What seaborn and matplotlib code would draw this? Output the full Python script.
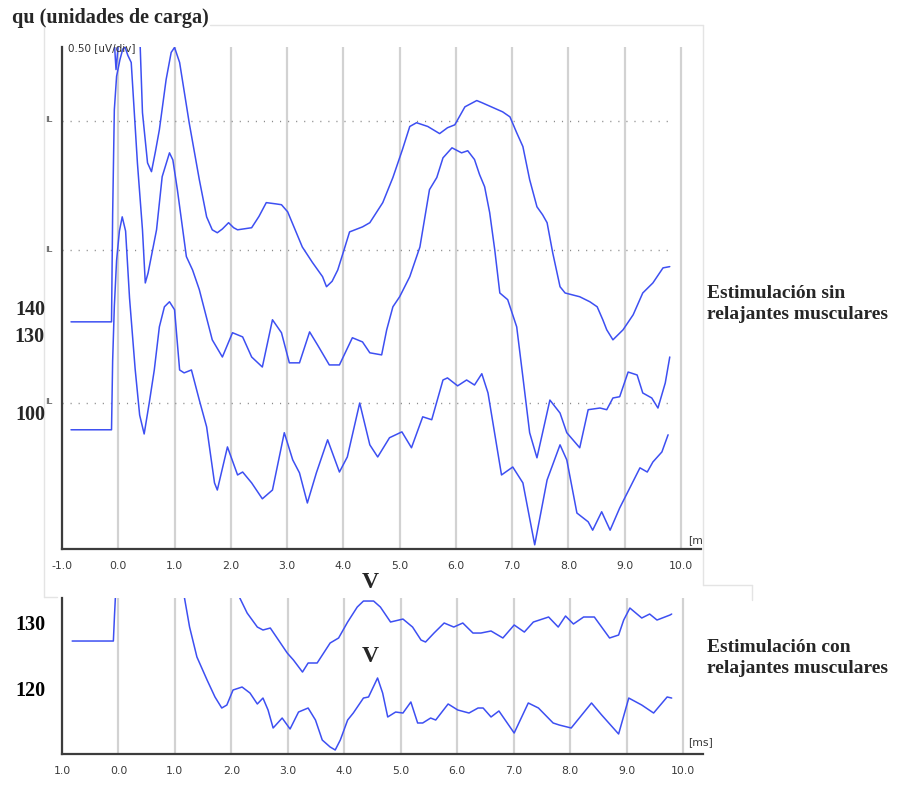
import matplotlib
matplotlib.use("Agg")
import matplotlib.pyplot as plt
from matplotlib.lines import Line2D
import pandas as pd
import seaborn as sns

# ---------------------------------------------------------------------------
# Data: latency in ms, amplitude in divisions (0.50 uV/div) for the upper panel
# and in charge units (qu) for the lower panel.
# ---------------------------------------------------------------------------

# Upper panel - stimulation without muscle relaxants
trace_a_ms = [-0.10, -0.06, -0.04, -0.01, 0.03, 0.08, 0.12, 0.16, 0.25, 0.36, 0.39, 0.43,
              0.52, 0.59, 0.66, 0.73, 0.85, 0.94, 1.00, 1.09, 1.26, 1.44, 1.57, 1.67, 1.76,
              1.85, 1.96, 2.05, 2.12, 2.37, 2.50, 2.63, 2.80, 2.90, 3.01, 3.27, 3.45, 3.63,
              3.70, 3.80, 3.90, 4.00, 4.11, 4.34, 4.47, 4.70, 4.88, 5.05, 5.18, 5.30, 5.50,
              5.71, 5.85, 5.98, 6.16, 6.37, 6.46, 6.83, 6.96, 7.08, 7.19, 7.31, 7.44, 7.54,
              7.62, 7.72, 7.85, 7.94, 8.20, 8.38, 8.51, 8.61, 8.68, 8.79, 8.97, 9.15, 9.32,
              9.50, 9.68, 9.80]
trace_a_div = [12.80, 11.90, 11.46, 11.90, 12.60, 12.10, 12.00, 12.10, 12.50, 12.30, 11.99,
               10.43, 9.23, 9.02, 9.50, 10.02, 11.22, 11.87, 11.99, 11.63, 10.19, 8.83, 7.94,
               7.63, 7.56, 7.65, 7.80, 7.68, 7.63, 7.68, 7.95, 8.28, 8.25, 8.23, 8.06, 7.22,
               6.85, 6.51, 6.27, 6.40, 6.67, 7.10, 7.58, 7.70, 7.80, 8.28, 8.88, 9.55, 10.10,
               10.19, 10.10, 9.93, 10.07, 10.14, 10.57, 10.72, 10.67, 10.45, 10.33, 9.95, 9.62,
               8.83, 8.18, 7.99, 7.80, 7.08, 6.27, 6.12, 6.03, 5.91, 5.79, 5.48, 5.24, 5.00,
               5.24, 5.60, 6.12, 6.36, 6.72, 6.75]

trace_b_ms = [-0.84, -0.12, -0.10, -0.07, -0.03, 0.03, 0.08, 0.12, 0.17, 0.23, 0.34, 0.43,
              0.48, 0.53, 0.68, 0.78, 0.91, 0.97, 1.05, 1.21, 1.32, 1.44, 1.67, 1.85, 2.03,
              2.21, 2.37, 2.56, 2.74, 2.90, 3.04, 3.22, 3.40, 3.54, 3.75, 3.93, 4.16, 4.34,
              4.47, 4.68, 4.77, 4.88, 5.00, 5.18, 5.36, 5.53, 5.66, 5.77, 5.93, 6.10, 6.21,
              6.33, 6.42, 6.51, 6.60, 6.69, 6.78, 6.92, 7.08, 7.19, 7.31, 7.44, 7.54, 7.67,
              7.85, 7.97, 8.20, 8.35, 8.56, 8.68, 8.79, 8.91, 9.06, 9.22, 9.32, 9.48, 9.59,
              9.72, 9.80]
trace_b_div = [5.43, 5.43, 8.00, 10.50, 11.30, 11.70, 11.95, 12.00, 11.80, 11.63, 9.23, 7.63,
               6.36, 6.60, 7.63, 8.90, 9.47, 9.30, 8.59, 6.99, 6.67, 6.20, 5.00, 4.59, 5.17,
               5.07, 4.59, 4.35, 5.48, 5.17, 4.45, 4.45, 5.19, 4.88, 4.40, 4.40, 5.05, 4.95,
               4.69, 4.64, 5.24, 5.79, 6.03, 6.51, 7.22, 8.59, 8.88, 9.35, 9.59, 9.47, 9.52,
               9.31, 8.95, 8.66, 8.04, 7.15, 6.12, 5.96, 5.31, 4.11, 2.78, 2.18, 2.78, 3.56,
               3.25, 2.78, 2.42, 3.33, 3.37, 3.33, 3.61, 3.64, 4.23, 4.16, 3.73, 3.61, 3.37,
               3.97, 4.59]

trace_c_ms = [-0.84, -0.12, -0.10, -0.07, -0.03, 0.02, 0.07, 0.13, 0.20, 0.30, 0.38, 0.46,
              0.55, 0.64, 0.73, 0.82, 0.91, 1.00, 1.09, 1.17, 1.30, 1.44, 1.57, 1.71, 1.76,
              1.94, 2.12, 2.21, 2.37, 2.56, 2.74, 2.95, 3.10, 3.22, 3.36, 3.52, 3.72, 3.93,
              4.07, 4.29, 4.47, 4.61, 4.82, 5.04, 5.21, 5.41, 5.57, 5.77, 5.85, 6.03, 6.19,
              6.33, 6.46, 6.57, 6.81, 7.01, 7.19, 7.40, 7.62, 7.85, 7.97, 8.15, 8.35, 8.43,
              8.59, 8.74, 8.91, 9.27, 9.40, 9.50, 9.66, 9.77]
trace_c_div = [2.85, 2.85, 4.50, 5.80, 6.90, 7.60, 7.94, 7.60, 6.00, 4.30, 3.20, 2.75, 3.49,
               4.28, 5.31, 5.79, 5.91, 5.72, 4.28, 4.21, 4.28, 3.56, 2.92, 1.58, 1.41, 2.44,
               1.77, 1.84, 1.58, 1.20, 1.41, 2.78, 2.13, 1.82, 1.10, 1.82, 2.61, 1.84, 2.20,
               3.49, 2.49, 2.20, 2.66, 2.80, 2.42, 3.16, 3.09, 4.04, 4.09, 3.90, 4.04, 3.92,
               4.19, 3.73, 1.77, 1.96, 1.58, 0.10, 1.65, 2.49, 2.13, 0.86, 0.65, 0.45, 0.89,
               0.45, 0.98, 1.94, 1.84, 2.08, 2.32, 2.73]

# Dotted reference levels (IL) in the upper panel, in divisions
il_levels = [10.24, 7.15, 3.49]

# Lower panel - stimulation with muscle relaxants (qu)
trace_d_ms = [-0.82, -0.09, -0.07, -0.05, 2.10, 2.15, 2.28, 2.46, 2.56, 2.69, 2.81, 2.99,
              3.10, 3.26, 3.36, 3.52, 3.75, 3.90, 4.06, 4.23, 4.34, 4.52, 4.64, 4.82, 5.04,
              5.21, 5.36, 5.44, 5.59, 5.77, 5.94, 6.10, 6.28, 6.42, 6.60, 6.81, 7.01, 7.19,
              7.35, 7.62, 7.79, 7.92, 8.06, 8.24, 8.43, 8.70, 8.86, 8.95, 9.06, 9.27, 9.41,
              9.54, 9.77, 9.80]
trace_d_qu = [127.12, 127.12, 131.00, 134.50, 136.00, 133.64, 131.36, 129.24, 128.79,
              129.09, 127.58, 125.30, 124.24, 122.42, 123.79, 123.79, 126.82, 127.58, 130.00,
              132.27, 133.18, 133.18, 132.27, 130.00, 130.45, 129.24, 127.27, 126.97, 128.33,
              129.85, 129.24, 129.85, 128.33, 128.33, 128.64, 127.58, 129.55, 128.48, 130.00,
              130.76, 129.24, 130.91, 129.70, 130.76, 130.76, 127.58, 128.03, 130.30, 132.12,
              130.61, 131.21, 130.30, 131.06, 131.21]

trace_e_ms = [1.10, 1.17, 1.26, 1.39, 1.57, 1.71, 1.83, 1.92, 2.03, 2.19, 2.33, 2.46, 2.56,
              2.65, 2.74, 2.90, 3.04, 3.19, 3.36, 3.49, 3.61, 3.75, 3.84, 3.93, 4.06, 4.16,
              4.34, 4.43, 4.59, 4.68, 4.77, 4.91, 5.04, 5.18, 5.30, 5.39, 5.53, 5.62, 5.84,
              6.01, 6.21, 6.37, 6.46, 6.60, 6.74, 7.01, 7.26, 7.44, 7.70, 7.81, 8.02, 8.38,
              8.56, 8.86, 9.04, 9.27, 9.48, 9.72, 9.80]
trace_e_qu = [136.00, 133.64, 129.24, 124.70, 121.21, 118.64, 116.97, 117.42, 119.70, 120.15,
              119.24, 117.58, 118.48, 116.67, 113.94, 115.45, 113.79, 116.36, 116.97, 115.15,
              112.12, 111.06, 110.61, 112.12, 115.15, 116.21, 118.48, 118.64, 121.52, 119.24,
              115.61, 116.36, 116.21, 117.88, 114.70, 114.70, 115.45, 115.15, 117.58, 116.67,
              116.21, 116.97, 116.97, 115.61, 116.52, 113.18, 117.73, 116.97, 114.70, 114.39,
              113.94, 117.73, 115.91, 113.03, 118.48, 117.42, 116.21, 118.64, 118.48]

# Axis ticks and labels
x_ticks = list(range(-1, 11))
top_x_labels = ["-1.0", "0.0", "1.0", "2.0", "3.0", "4.0", "5.0", "6.0", "7.0", "8.0", "9.0", "10.0"]
bottom_x_labels = ["1.0", "0.0", "1.0", "2.0", "3.0", "4.0", "5.0", "6.0", "7.0", "8.0", "9.0", "10.0"]
bottom_y_ticks = [110, 120, 130]
bottom_y_labels = ["", "120", "130"]
charge_marks = [("140", 310), ("130", 337), ("100", 415)]

# ---------------------------------------------------------------------------
sns.set_theme(style="white")
plt.rcParams["font.family"] = ["DejaVu Sans"]

W, H = 901, 785
fig = plt.figure(figsize=(W / 100, H / 100), dpi=100)
fig.patch.set_facecolor("white")


def fx(px):
    return px / W


def fy(py):
    return 1 - py / H


BLUE = "#3d4ff2"
AXIS = "#3c3c3c"
GRID = "#d2d2d2"
TICK_TXT = "#3a3a3a"
SERIF = ["Liberation Serif", "DejaVu Serif"]

ax_top = fig.add_axes([fx(62), fy(549), fx(701) - fx(62), fy(47) - fy(549)])
ax_bot = fig.add_axes([fx(62), fy(754), fx(703) - fx(62), fy(598) - fy(754)])

for ax in (ax_top, ax_bot):
    ax.set_facecolor("white")
    ax.set_xlim(-1.0, 10.355)
    ax.set_xticks(x_ticks)
    ax.set_axisbelow(True)
    ax.xaxis.grid(True, color=GRID, linewidth=1.6)
    ax.yaxis.grid(False)
    for side in ("top", "right"):
        ax.spines[side].set_visible(False)
    for side in ("left", "bottom"):
        ax.spines[side].set_color(AXIS)
        ax.spines[side].set_linewidth(1.6)
    ax.tick_params(axis="x", direction="out", length=3.5, width=1.4, color=AXIS,
                   labelsize=7.8, labelcolor=TICK_TXT, pad=5)
    ax.tick_params(axis="y", direction="out", length=3.5, width=1.2, color=AXIS)
    ax.set_xlabel("")
    ax.set_ylabel("")

# Upper panel
ax_top.set_ylim(0, 12)
ax_top.set_yticks(range(0, 13))
ax_top.set_yticklabels([])
ax_top.set_xticklabels(top_x_labels)

ax_top.hlines(il_levels, -1.0, 9.85, colors="#8a8a8a", linewidth=1.0,
              linestyles=(0, (0.8, 5.0)), zorder=1.5)

upper = [(trace_a_ms, trace_a_div), (trace_b_ms, trace_b_div), (trace_c_ms, trace_c_div)]
for xs, ys in upper:
    sns.lineplot(x=xs, y=ys, ax=ax_top, color=BLUE, linewidth=1.1,
                 estimator=None, sort=False, zorder=3,
                 solid_joinstyle="round", solid_capstyle="round")

# Lower panel
ax_bot.set_ylim(110, 133.64)
ax_bot.set_yticks(bottom_y_ticks)
ax_bot.set_yticklabels(bottom_y_labels, fontsize=14.5, fontweight="bold",
                       family=SERIF, color="black")
ax_bot.tick_params(axis="y", pad=8.5)
ax_bot.set_xticklabels(bottom_x_labels)

lower = [(trace_d_ms, trace_d_qu), (trace_e_ms, trace_e_qu)]
for xs, ys in lower:
    sns.lineplot(x=xs, y=ys, ax=ax_bot, color=BLUE, linewidth=1.1,
                 estimator=None, sort=False, zorder=3,
                 solid_joinstyle="round", solid_capstyle="round")

# Panel annotations
fig.text(fx(68), fy(48), "0.50 [uV/div]", fontsize=7.5, color="#333333",
         ha="left", va="center")
for level_px in (121, 250, 403):
    fig.text(fx(49), fy(level_px - 1), "IL", fontsize=6.5, color="#444444",
             ha="center", va="center", family=["Liberation Sans", "DejaVu Sans"])
fig.text(fx(688), fy(540), "[m", fontsize=7.8, color=TICK_TXT, ha="left", va="center")
fig.text(fx(688), fy(742), "[ms]", fontsize=7.8, color=TICK_TXT, ha="left", va="center")

fig.text(fx(12), fy(18), "qu (unidades de carga)", fontsize=14.5, fontweight="bold",
         family=SERIF, ha="left", va="center")
for label, ypx in charge_marks:
    fig.text(fx(45), fy(ypx), label, fontsize=14.5, fontweight="bold", family=SERIF,
             ha="right", va="center")

fig.text(fx(370), fy(582), "V", fontsize=17, fontweight="bold", family=SERIF,
         ha="center", va="center")
fig.text(fx(370), fy(656), "V", fontsize=17, fontweight="bold", family=SERIF,
         ha="center", va="center")

fig.text(fx(707), fy(304), "Estimulación sin\nrelajantes musculares", fontsize=14,
         fontweight="bold", family=SERIF, ha="left", va="center", linespacing=1.3)
fig.text(fx(707), fy(658), "Estimulación con\nrelajantes musculares", fontsize=14,
         fontweight="bold", family=SERIF, ha="left", va="center", linespacing=1.3)

# Light frame around the recorder screens
frame = [((44, 44), (25, 597)), ((210, 703), (25, 25)), ((703, 703), (25, 585)),
         ((703, 752), (585, 585)), ((752, 752), (585, 600)), ((44, 57), (597, 597))]
for xs_px, ys_px in frame:
    fig.add_artist(Line2D([fx(v) for v in xs_px], [fy(v) for v in ys_px],
                          color="#e4e4e4", linewidth=1.0, transform=fig.transFigure))

fig.savefig("out.png", dpi=100, facecolor="white")
